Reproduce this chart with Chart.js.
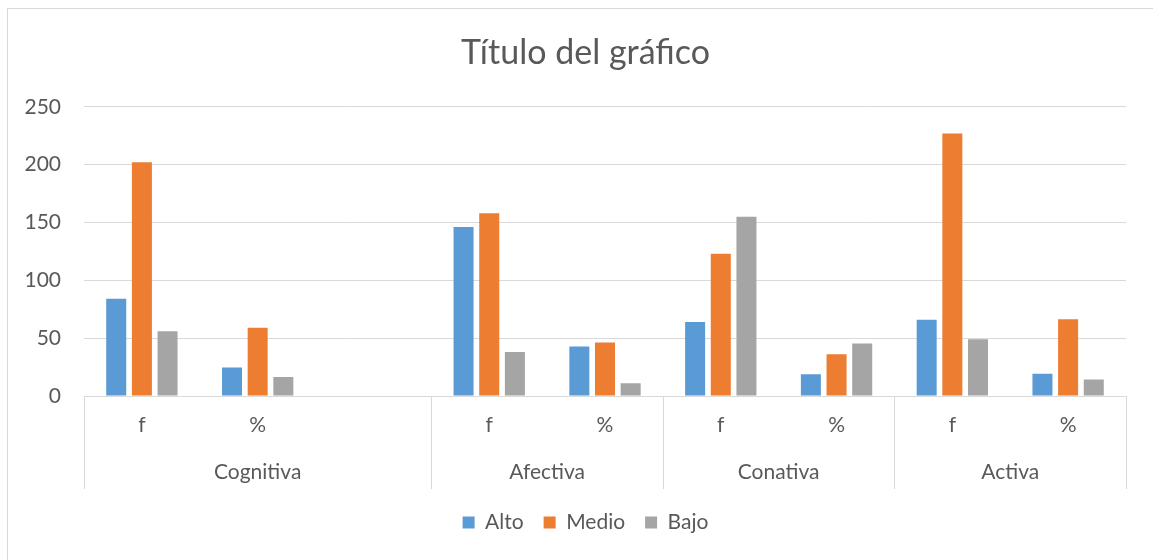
<!DOCTYPE html>
<html>
<head>
<meta charset="utf-8">
<script src="https://cdn.jsdelivr.net/npm/chart.js@4/dist/chart.umd.min.js"></script>
<style>
  html, body { margin: 0; padding: 0; background: #fff; overflow: hidden; width: 1153px; height: 560px; }
  #wrap { position: absolute; left: 7px; top: 8px; width: 1155px; height: 560px; border: 1px solid #d9d9d9; background: #fff; }
</style>
</head>
<body>
<div id="wrap"><canvas id="chart"></canvas></div>
<script>
// datos del gráfico
const categories = ['f', '%', '', 'f', '%', 'f', '%', 'f', '%'];
const groups = ['Cognitiva', 'Afectiva', 'Conativa', 'Activa'];
const groupSpans = [3, 2, 2, 2];
const alto = [84, 24.6, null, 146, 42.7, 64, 18.7, 66, 19.3];
const medio = [202, 59.1, null, 158, 46.2, 123, 36, 227, 66.4];
const bajo = [56, 16.4, null, 38, 11.1, 155, 45.3, 49, 14.3];
const yTicks = [0, 50, 100, 150, 200, 250];

const textColor = '#595959';
const lineColor = '#d9d9d9';
const fontFamily = 'Lato, "Open Sans", sans-serif';

// segundo nivel del eje X: separadores y nombres de grupo
const groupAxis = {
  id: 'groupAxis',
  afterDraw(chart) {
    const x = chart.scales.x;
    const ctx = chart.ctx;
    const top = chart.chartArea.bottom;
    const bottom = top + 93;
    ctx.save();
    ctx.strokeStyle = lineColor;
    ctx.lineWidth = 1;
    ctx.fillStyle = textColor;
    ctx.font = '21px ' + fontFamily;
    ctx.textAlign = 'center';
    ctx.textBaseline = 'middle';
    let start = 0;
    const edges = [x.getPixelForValue(-0.5)];
    groups.forEach((g, i) => {
      const end = start + groupSpans[i];
      const l = x.getPixelForValue(start - 0.5);
      const r = x.getPixelForValue(end - 0.5);
      edges.push(r);
      ctx.fillText(g, (l + r) / 2, top + 76);
      start = end;
    });
    edges.forEach(px => {
      const p = Math.round(px) + 0.5;
      ctx.beginPath();
      ctx.moveTo(p, top);
      ctx.lineTo(p, bottom);
      ctx.stroke();
    });
    ctx.restore();
  }
};

new Chart(document.getElementById('chart'), {
  type: 'bar',
  data: {
    labels: categories,
    datasets: [
      { label: 'Alto', data: alto, backgroundColor: '#5B9BD5' },
      { label: 'Medio', data: medio, backgroundColor: '#ED7D31' },
      { label: 'Bajo', data: bajo, backgroundColor: '#A5A5A5' },
    ],
  },
  options: {
    responsive: true,
    maintainAspectRatio: false,
    animation: false,
    layout: { padding: { left: 0, right: 0, top: 0, bottom: 26 } },
    datasets: { bar: { categoryPercentage: 0.665, barPercentage: 0.78 } },
    scales: {
      x: {
        grid: { display: false, drawTicks: false },
        border: { display: true, color: lineColor, width: 1 },
        ticks: { color: textColor, font: { family: fontFamily, size: 21 }, padding: 17, maxRotation: 0, autoSkip: false },
        afterFit(scale) { scale.height = 96; },
      },
      y: {
        min: 0,
        max: 250,
        afterBuildTicks(scale) { scale.ticks = yTicks.map(v => ({ value: v })); },
        grid: { color: lineColor, drawTicks: false, lineWidth: 1 },
        border: { display: false },
        ticks: { color: textColor, font: { family: fontFamily, size: 21 }, padding: 23 },
        afterFit(scale) { scale.width = 76; },
      },
      // eje vacío a la derecha para dejar el margen sin descentrar título y leyenda
      yRight: {
        position: 'right',
        grid: { display: false, drawTicks: false },
        border: { display: false },
        ticks: { display: false },
        afterFit(scale) { scale.width = 37; },
      },
    },
    plugins: {
      title: {
        display: true,
        text: 'Título del gráfico',
        color: textColor,
        font: { family: fontFamily, size: 34, weight: 'normal' },
        padding: { top: 24, bottom: 33 },
      },
      legend: {
        position: 'bottom',
        labels: {
          color: textColor,
          font: { family: fontFamily, size: 21 },
          boxWidth: 12,
          boxHeight: 12,
          padding: 20,
        },
      },
      tooltip: { enabled: false },
    },
  },
  plugins: [groupAxis],
});
</script>
</body>
</html>
